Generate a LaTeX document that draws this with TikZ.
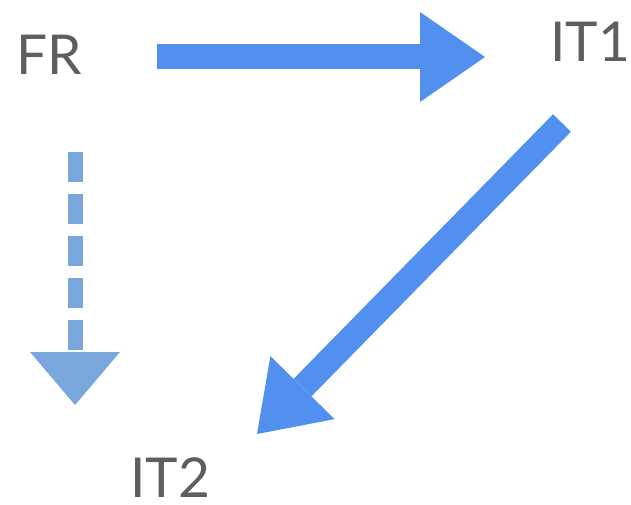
\documentclass[tikz,border=0pt]{standalone}
\usepackage{fontspec}
\setmainfont{Lato}
\usetikzlibrary{arrows.meta}
\definecolor{mainblue}{HTML}{5290EF}
\definecolor{softblue}{HTML}{7AA7DB}
\definecolor{txtgrey}{HTML}{5E5E5E}
\tikzset{
  lbl/.style={inner sep=0pt, anchor=base west, text=txtgrey, font=\fontsize{55}{60}\selectfont},
  bigarrow/.style={draw=mainblue, line width=25pt, line cap=butt,
    -{Triangle[length=65pt,width=90pt,line width=0pt]}},
  dasharrow/.style={draw=softblue, line width=15pt, line cap=butt,
    dash pattern=on 30pt off 12pt,
    -{Triangle[length=53pt,width=90pt,line width=0pt]}}
}
\begin{document}
\begin{tikzpicture}[x=1pt,y=1pt]
\useasboundingbox (0,0) rectangle (631,-505);
\node[lbl] (FR) at (16,-75) {FR};
\node[lbl] (IT1) at (550,-62) {IT1};
\node[lbl] (IT2) at (130,-497) {IT2};
\coordinate (a1s) at (157,-57);
\coordinate (a1e) at (485,-57);
\coordinate (a2s) at (562,-123);
\coordinate (a2e) at (257,-434);
\coordinate (a3s) at (75,-152);
\coordinate (a3e) at (75,-405);
\draw[bigarrow] (a1s) -- (a1e);
\draw[bigarrow] (a2s) -- (a2e);
\draw[dasharrow] (a3s) -- (a3e);
\end{tikzpicture}
\end{document}
